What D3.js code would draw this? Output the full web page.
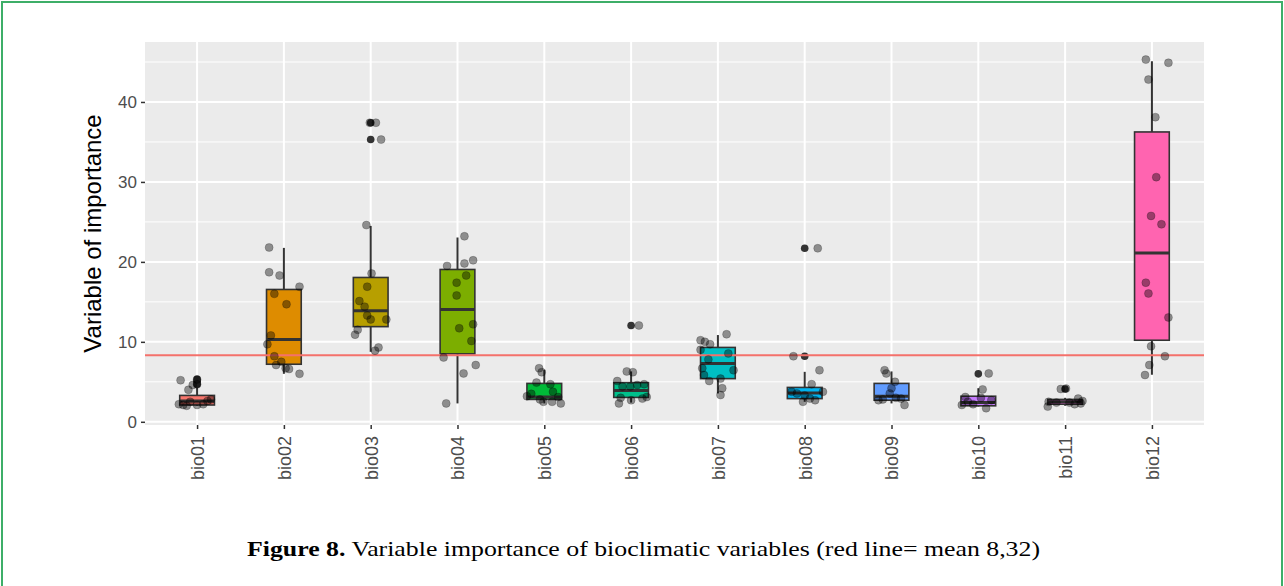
<!DOCTYPE html>
<html>
<head>
<meta charset="utf-8">
<script src="https://cdn.jsdelivr.net/npm/d3@7"></script>
<style>
  body { margin: 0; background: #fff; }
  svg { display: block; }
</style>
</head>
<body>
<div class="chart"></div>
<script>
// categories and boxplot summaries
const categories = ['bio01','bio02','bio03','bio04','bio05','bio06','bio07','bio08','bio09','bio10','bio11','bio12']
const boxLow    = [2.0, 6.0, 8.75, 2.3, 2.3, 2.4, 3.55, 2.5, 2.3, 1.9, 2.0, 5.9]
const boxQ1     = [2.1, 7.2, 11.9, 8.5, 2.8, 3.05, 5.4, 2.9, 2.7, 2.0, 2.2, 10.2]
const boxMedian = [2.6, 10.3, 13.9, 14.05, 3.1, 3.9, 7.3, 3.6, 3.2, 2.4, 2.5, 21.1]
const boxQ3     = [3.3, 16.55, 18.05, 19.05, 4.8, 4.9, 9.3, 4.3, 4.8, 3.2, 2.8, 36.25]
const boxHigh   = [4.3, 21.75, 24.5, 23.05, 6.5, 6.3, 10.85, 6.25, 6.3, 4.2, 3.0, 45.1]
const outliers  = [[5.3, 5.0, 4.7], [], [37.4, 35.3], [], [], [12.05], [], [21.7, 8.2], [], [6.0], [4.1], []]

// individual (jittered) values, jitter given in category units
const pointValues = [
  [5.2, 4.0, 4.6, 5.3, 4.7, 2.1, 2.0, 2.1, 2.6, 2.8, 2.5, 2.2, 2.2],
  [21.8, 18.7, 18.3, 16.9, 16.0, 14.7, 10.8, 9.7, 8.2, 7.1, 7.5, 6.6, 6.7, 6.0],
  [37.4, 37.4, 35.3, 24.6, 18.55, 16.9, 15.1, 14.4, 13.3, 12.8, 12.8, 11.5, 10.9, 9.3, 8.9],
  [23.2, 19.5, 19.8, 20.2, 18.3, 17.4, 15.8, 11.7, 12.2, 10.1, 8.05, 7.1, 6.05, 2.3],
  [6.7, 6.2, 4.9, 3.75, 4.7, 3.2, 2.8, 2.5, 2.5, 2.3, 3.1, 3.5],
  [12.05, 6.3, 6.2, 5.1, 4.4, 4.6, 4.7, 4.4, 2.3, 2.9, 3.1, 2.7, 3.0],
  [10.95, 10.2, 10.0, 9.7, 9.0, 8.55, 7.8, 6.45, 6.7, 5.85, 5.1, 5.4, 4.2, 3.35],
  [21.7, 8.2, 6.45, 4.7, 3.75, 2.5, 3.55, 2.9, 3.75, 3.3, 2.7],
  [6.45, 6.05, 5.0, 4.2, 3.55, 2.7, 2.1, 2.9, 2.8, 3.0],
  [6.05, 4.05, 3.1, 2.1, 1.7, 2.2, 2.7, 2.5, 3.0],
  [4.1, 4.15, 2.5, 1.9, 2.9, 2.3, 2.2, 2.4, 2.4, 2.6],
  [45.3, 44.9, 42.8, 38.1, 30.6, 25.75, 24.7, 17.4, 16.05, 13.05, 9.45, 8.2, 7.1, 5.85]
]
const pointJitter = [
  [-0.19, -0.10, -0.05, 0.0, 0.0, -0.16, -0.12, 0.0, 0.12, 0.16, -0.08, 0.07, -0.21],
  [-0.17, -0.17, -0.05, 0.18, -0.11, 0.03, -0.15, -0.19, -0.11, -0.09, -0.03, 0.06, 0.02, 0.18],
  [0.06, -0.01, 0.12, -0.05, 0.01, -0.04, -0.13, -0.07, -0.04, 0.0, 0.18, -0.15, -0.18, 0.09, 0.05],
  [0.08, -0.12, 0.08, 0.18, 0.10, -0.01, -0.01, 0.02, 0.18, 0.16, -0.16, 0.21, 0.07, -0.13],
  [-0.06, -0.03, -0.09, 0.10, 0.07, -0.20, -0.05, -0.01, 0.09, 0.19, 0.16, -0.15],
  [0.09, -0.05, 0.02, -0.16, -0.10, 0.07, 0.15, -0.01, -0.14, 0.13, 0.18, 0.0, -0.12],
  [0.10, -0.20, -0.15, -0.09, -0.20, 0.12, -0.11, 0.18, -0.18, -0.16, -0.10, 0.03, 0.05, 0.03],
  [0.15, -0.13, 0.17, 0.08, 0.21, -0.02, -0.09, 0.06, -0.15, 0.0, 0.12],
  [-0.08, -0.06, 0.04, 0.0, -0.02, -0.15, 0.15, 0.11, -0.10, 0.05],
  [0.12, 0.05, -0.15, -0.19, 0.09, -0.06, 0.15, -0.12, 0.03],
  [-0.05, 0.01, -0.19, -0.20, 0.15, 0.18, 0.11, -0.10, 0.05, 0.20],
  [-0.07, 0.19, -0.04, 0.04, 0.05, -0.01, 0.11, -0.07, -0.04, 0.19, -0.01, 0.15, -0.03, -0.08]
]
const meanLine = 8.32
const yTicks = [0, 10, 20, 30, 40]
const yMinor = [5, 15, 25, 35, 45]

// ggplot default hue palette for 12 groups
const palette = ['#F8766D','#DE8C00','#B79F00','#7CAE00','#00BA38','#00C08B','#00BFC4','#00B4F0','#619CFF','#C77CFF','#F564E3','#FF64B0']

const W = 1284, H = 586
const panel = { left: 145, right: 1204, top: 42, bottom: 425 }

const svg = d3.select('.chart').append('svg')
    .attr('width', W)
    .attr('height', H)

// green frame
svg.append('path')
    .attr('d', `M2,${H} V2 H1282 V${H}`)
    .attr('fill', 'none')
    .attr('stroke', '#3DAE68')
    .attr('stroke-width', 2)

const x = d3.scalePoint()
    .domain(categories)
    .range([panel.left, panel.right])
    .padding(0.6)

const y = d3.scaleLinear()
    .domain([-0.4, 47.5])
    .range([panel.bottom, panel.top])

const step = x.step()
const boxW = step * 0.4

// panel background + grid
svg.append('rect')
    .attr('x', panel.left).attr('y', panel.top)
    .attr('width', panel.right - panel.left)
    .attr('height', panel.bottom - panel.top)
    .attr('fill', '#EBEBEB')

const grid = svg.append('g')
grid.selectAll('.minor').data(yMinor).enter().append('line')
    .attr('x1', panel.left).attr('x2', panel.right)
    .attr('y1', d => y(d)).attr('y2', d => y(d))
    .attr('stroke', '#fff').attr('stroke-width', 1)
grid.selectAll('.major').data(yTicks).enter().append('line')
    .attr('x1', panel.left).attr('x2', panel.right)
    .attr('y1', d => y(d)).attr('y2', d => y(d))
    .attr('stroke', '#fff').attr('stroke-width', 2)
grid.selectAll('.vmajor').data(categories).enter().append('line')
    .attr('x1', d => x(d)).attr('x2', d => x(d))
    .attr('y1', panel.top).attr('y2', panel.bottom)
    .attr('stroke', '#fff').attr('stroke-width', 2)

// boxplots
const boxes = svg.append('g')
categories.forEach((c, i) => {
    const cx = x(c)
    const g = boxes.append('g')
    g.append('line')
        .attr('x1', cx).attr('x2', cx)
        .attr('y1', y(boxHigh[i])).attr('y2', y(boxLow[i]))
        .attr('stroke', '#333').attr('stroke-width', 2)
    g.append('rect')
        .attr('x', cx - boxW / 2)
        .attr('y', y(boxQ3[i]))
        .attr('width', boxW)
        .attr('height', y(boxQ1[i]) - y(boxQ3[i]))
        .attr('fill', palette[i])
        .attr('stroke', '#333').attr('stroke-width', 1.6)
    g.append('line')
        .attr('x1', cx - boxW / 2).attr('x2', cx + boxW / 2)
        .attr('y1', y(boxMedian[i])).attr('y2', y(boxMedian[i]))
        .attr('stroke', '#333').attr('stroke-width', 3)
    g.selectAll('circle').data(outliers[i]).enter().append('circle')
        .attr('cx', cx)
        .attr('cy', d => y(d))
        .attr('r', 3.8)
        .attr('fill', '#333')
})

// mean line
svg.append('line')
    .attr('x1', panel.left).attr('x2', panel.right)
    .attr('y1', y(meanLine)).attr('y2', y(meanLine))
    .attr('stroke', '#F4716B').attr('stroke-width', 2)

// jittered points
const pts = svg.append('g')
categories.forEach((c, i) => {
    pts.selectAll(null).data(pointValues[i]).enter().append('circle')
        .attr('cx', (d, j) => x(c) + pointJitter[i][j] * step)
        .attr('cy', d => y(d))
        .attr('r', 4)
        .attr('fill', 'rgba(0,0,0,0.4)')
        .attr('stroke', 'rgba(0,0,0,0.25)')
        .attr('stroke-width', 0.8)
})

// axes
const yAxis = svg.append('g')
    .attr('transform', `translate(${panel.left},0)`)
    .call(d3.axisLeft(y).tickValues(yTicks).tickSize(4).tickPadding(4))
yAxis.select('.domain').remove()
yAxis.selectAll('line').attr('stroke', '#333').attr('stroke-width', 1.5)
yAxis.selectAll('text')
    .attr('fill', '#4D4D4D')
    .style('font-family', 'Liberation Sans, Arial, sans-serif')
    .style('font-size', '17px')

const xAxis = svg.append('g')
    .attr('transform', `translate(0,${panel.bottom})`)
    .call(d3.axisBottom(x).tickSize(4))
xAxis.select('.domain').remove()
xAxis.selectAll('line').attr('stroke', '#333').attr('stroke-width', 1.5)
xAxis.selectAll('text')
    .attr('fill', '#4D4D4D')
    .attr('transform', 'rotate(-90)')
    .attr('x', -11)
    .attr('y', 0)
    .attr('dy', '0.35em')
    .attr('text-anchor', 'end')
    .style('font-family', 'Liberation Sans, Arial, sans-serif')
    .style('font-size', '18px')

svg.append('text')
    .attr('transform', `translate(101,${(panel.top + panel.bottom) / 2}) rotate(-90)`)
    .attr('text-anchor', 'middle')
    .style('font-family', 'Liberation Sans, Arial, sans-serif')
    .style('font-size', '24px')
    .attr('fill', '#000')
    .text('Variable of importance')

// caption
const cap = svg.append('text')
    .attr('x', 247)
    .attr('y', 556)
    .attr('textLength', 793)
    .attr('lengthAdjust', 'spacingAndGlyphs')
    .style('font-family', 'Liberation Serif, Times New Roman, serif')
    .style('font-size', '22px')
    .attr('fill', '#000')
cap.append('tspan').style('font-weight', 'bold').text('Figure 8.')
cap.append('tspan').text(' Variable importance of bioclimatic variables (red line= mean 8,32)')
</script>
</body>
</html>
